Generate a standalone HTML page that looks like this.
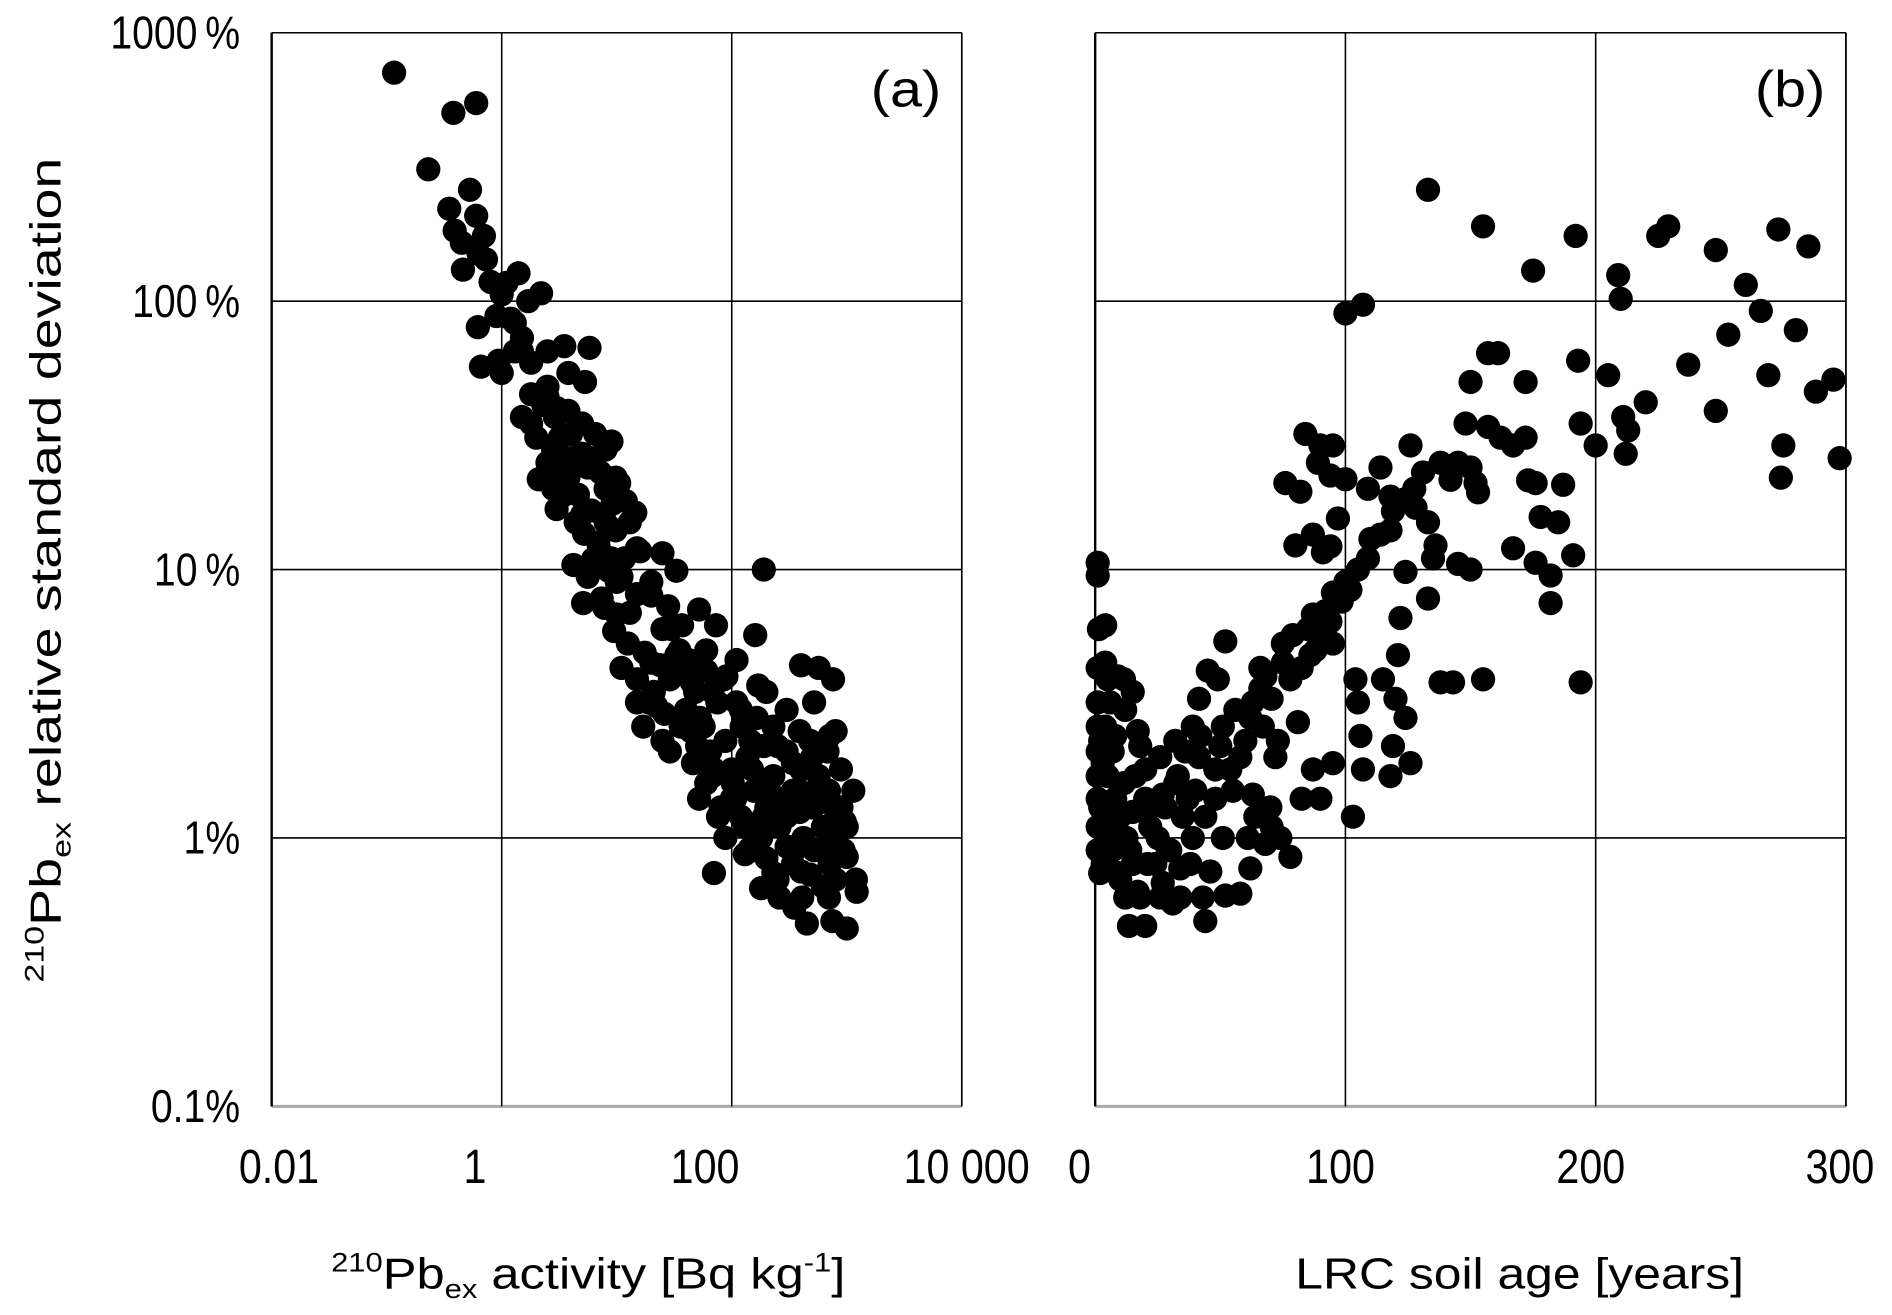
<!DOCTYPE html>
<html><head><meta charset="utf-8"><style>
html,body{margin:0;padding:0;background:#fff;}
svg{display:block;font-family:"Liberation Sans",sans-serif;}
</style></head><body>
<svg id="chart" width="1892" height="1315" viewBox="0 0 1560 1084" preserveAspectRatio="none" xmlns="http://www.w3.org/2000/svg">
<g id="grid"></g>
<g id="dotsA"></g>
<g id="dotsB"></g>
<g id="labels"></g>
<text x="776" y="88" font-size="42" text-anchor="end" textLength="58" lengthAdjust="spacingAndGlyphs">(a)</text>
<text x="1505" y="88" font-size="42" text-anchor="end" textLength="58" lengthAdjust="spacingAndGlyphs">(b)</text>
<text x="485" y="1062" font-size="36" text-anchor="middle" textLength="424" lengthAdjust="spacingAndGlyphs"><tspan font-size="22" dy="-14">210</tspan><tspan dy="14">Pb</tspan><tspan font-size="22" dy="8">ex</tspan><tspan dy="-8"> activity [Bq kg</tspan><tspan font-size="22" dy="-14">-1</tspan><tspan dy="14">]</tspan></text>
<text x="1253" y="1062" font-size="36" text-anchor="middle" textLength="370" lengthAdjust="spacingAndGlyphs">LRC soil age [years]</text>
<text transform="translate(50,470) rotate(-90)" font-size="36" text-anchor="middle" textLength="680" lengthAdjust="spacingAndGlyphs"><tspan font-size="22" dy="-14">210</tspan><tspan dy="14">Pb</tspan><tspan font-size="22" dy="8">ex</tspan><tspan dy="-8"> relative standard deviation</tspan></text>
</svg>
<script>
const aX=[0.116,0.38,0.6,0.23,0.35,0.53,0.39,0.6,0.45,0.7,0.46,0.73,0.63,0.8,1.1,1.4,0.9,0.62,1.0,1.2,1.7,2.2,1.3,0.66,0.94,1.0,1.5,1.3,1.8,2.5,3.5,5.8,2.5,3.8,5.3,1.8,2.3,2.9,3.8,5,6.5,8,9,3.2,2.5,4,5.6,7.2,9.8,2.8,3.5,4.6,6,8,10.5,9.2,5.2,6.9,9.8,13,14.5,6.2,8.5,11.6,16,5.6,5.1,7.4,10,15,20,25,33,9.5,12.5,17.5,24,33,11,15,21,29,42,60,37,52,73,19,26,36,53,75,17,25,44,65,88,122,165,46,68,100,137,190,52,76,107,156,230,340,88,130,190,270,390,570,143,200,300,420,620,810,230,340,480,710,940,70,260,450,750,1000,1220,1140,890,710,520,760,400,570,160,190,170,110,37,145,390,260,180,520,750,960,410,620,130,102,230,300,57,29,22,15,13,28,7.8,11,4.2,4.4,3.0,2.1,3,3.8,5,3,2,1.5,9,37,48,68,85,110,230,480,680,340,210,390,570,
40,50,60,80,120,150,200,250,300,350,400,500,600,700,800,900,1000,120,200,300,500,700,800,60,90,30,20,15,12,8,6,4,3,2.5,1.5,150,250,400,600,1000,1200,180,350,100,70,45,35,25,20,10,7,5,3.5,2.8,1.8];
const aY=[710,503,547,310,221,260,183,208,165,175,131,143,150,118,117,127,88,80,106,86,100,107,83,57,60,54,73,65,59,65,68,67,48,54,50,45,41,37,39,35,32,28,30,31,25,26,24,23,22,20,21,19,16.6,15,21,17.6,13.6,12.6,14,15,16.3,10.9,9.9,11,11.7,9.4,7.5,7.8,6.8,8.1,9,11.5,9.9,5.9,5.3,4.9,4.4,4.8,4.3,3.9,3.5,3.9,4.6,4.2,6.2,7.1,6.2,3.2,2.9,2.6,2.8,3.2,2.6,2.3,2.5,2.1,2.3,2.6,2.8,1.9,1.7,1.8,2,2.2,1.4,1.2,1.4,1.5,1.7,1.9,1,1.1,1.2,1.4,1.5,1.7,0.91,0.84,0.93,1,1.1,1.25,0.74,0.8,0.73,0.8,0.9,0.74,0.6,0.48,0.49,0.46,0.63,1.5,1.8,2.4,3.2,3.9,4.4,4.3,5.7,10,3.7,4.6,2.7,2.3,2.5,1.1,1,0.9,1,1.15,0.6,0.66,0.87,1.6,1.4,2.1,2.6,2.1,3.1,3.2,6.9,7.3,7.2,9.4,10.4,15,16.8,21.7,21.7,22,27,26,31,37,11,4.4,3.5,3.5,3.9,3.2,2.6,2.3,2.1,1.5,1.6,1.25,1.35,
3,2.2,1.6,1.3,1.2,0.9,1.3,0.7,1.2,0.9,0.75,1.3,0.9,0.6,0.7,1.3,1.1,3,3.5,3,2,1.5,2.5,5,4,6,8,12,18,20,26,32,40,44,65,1.8,2.2,1.8,1.5,0.85,0.7,0.65,0.55,1.4,1.8,3.8,5,6,4.5,9,12,16,19,28,35];
const bX=[1,1,1.5,4,1,1,1,1,1,1,1,1,2,4,5,9,11.5,6,4,7,5,8,5,7,9,12,13.5,20,17,15,12.5,15,11.5,17,20,22,25,21,27,31,29,27,33,32,39,41.5,37,39,34,43,44,41.5,45,49,52,51,54,48,51,52,58,61,63,60,63,66,68,70.5,67,73,70,68,62,78,74,70.5,81,78,75,79,82.5,86,90,94,87,95,98.5,102,105,109,95,91,87,94,97,100,94,89,84,90,95,76,82,80,82.5,90,95,87,103,104,105,106,107,115,118,119,120,124,126,121,122,124,114,119,124,127.5,131,126,109,114,118,133,136,133,138,142,138,143,145,150,148,145,150,153,152,155,150,157,161,155,133,107,100,157,162,167,172,172,175,167,173,176,178,185,176,182,182,187,191,194,193,194,192,200,205,209,210,211,212,213,220,225,229,237,248,248,253,260,266,269,273,275,274,280,285,288,295,297.5,
2,3,3,6,8,10,10,14,16,18,18,22,24,26,28,30,32,35,36,38,40,42,44,46,48,50,55,56,58,62,64,66,72,75,85,88,92,100,110,118,128,135,12,20,26,34,4,2,15];
const bY=[10.6,9.5,6,6.2,4.3,3.2,2.6,2.1,1.7,1.4,1.1,0.9,0.74,4.5,3.9,4,3.9,3.2,2.6,2.1,1.7,1.4,1.1,0.9,0.74,0.6,0.47,0.47,0.63,0.8,1,1.25,1.6,2.5,1.8,1.3,1,0.8,0.68,0.57,0.9,1.45,1.7,2.3,2.6,2,1.4,1,0.77,0.6,0.49,3.3,4.2,3.9,5.4,2.6,1.8,1.4,1,0.61,0.62,1,1.45,2.3,3.2,4.3,4,3.3,2.6,2.3,1.3,0.95,0.77,0.85,1,1.1,2.7,3.9,5.3,5.7,4.3,4.8,5.7,6.4,6.8,5.3,7.6,8.4,10,11,8.2,11.6,13.5,12.2,15.5,21.7,22.4,25,32,29,29,21,19.5,12.3,1.4,1.4,1.9,1.8,1.2,3.9,3.2,2.4,1.8,3.9,1.7,2.2,3.3,2.8,1.9,4.8,6.6,9.8,13.5,16.5,18.3,20,23,29,20,24,18.7,15,12.3,7.8,25,21.6,3.8,3.8,10.5,10,35,25,24,19.4,21,3.9,50,64,64,190,260,97,90,34,31,29,31,50,130,12,21.5,21,15.7,15,10.6,9.5,7.5,20.7,11.3,3.8,60,35,175,29,53,125,102,37,27,33,42,175,190,58,155,39,75,115,92,53,185,29,22,78,160,46,51,26,
1.3,1.9,0.8,1.0,2.4,1.2,0.7,0.9,1.7,2.2,0.6,1.1,0.8,2.0,1.3,0.9,1.6,1.2,2.1,0.8,1.5,2.4,1.2,0.75,1.8,2.2,1.5,3.0,2.0,2.8,1.2,3.6,2.0,4.5,6,5,7,9,13,14,17,11,3,1.4,0.6,0.6,0.9,2.3,3.5];
const yTicks=[1000,100,10,1,0.1];
const yTickLabels=["1000\u2009%","100\u2009%","10\u2009%","1%","0.1%"];
const aXTicks=[0.01,1,100,10000];
const aXTickLabels=["0.01","1","100","10 000"];
const bXTicks=[0,100,200,300];
const bXTickLabels=["0","100","200","300"];

const NS="http://www.w3.org/2000/svg";
const TOP=27,BOT=912;
const A={l:224,r:793},B={l:903,r:1522};
function yS(v){return TOP+(3-Math.log10(v))/4*(BOT-TOP);}
function xA(v){return A.l+(Math.log10(v)+2)/6*(A.r-A.l);}
function xB(v){return B.l+v/300*(B.r-B.l);}
function mk(tag,attrs,parent){const e=document.createElementNS(NS,tag);for(const k in attrs)e.setAttribute(k,attrs[k]);parent.appendChild(e);return e;}
const grid=document.getElementById('grid'),labels=document.getElementById('labels');
yTicks.forEach((t,i)=>{
  [A,B].forEach((P,j)=>{
    const ln=mk('line',{x1:P.l,x2:P.r,y1:yS(t),y2:yS(t),stroke:(i===4?'#aaa':'#000'),'stroke-width':(i===4?2.5:1.3)},grid);
    
    
  });
  const tx=mk('text',{transform:'translate(198,'+(yS(t)+13)+') scale(0.85,1)','font-size':38,'text-anchor':'end'},labels);
  tx.textContent=yTickLabels[i];
  
  
});
aXTicks.forEach((t,i)=>{
  const x=xA(t);
  const ln=mk('line',{x1:x,x2:x,y1:TOP,y2:BOT,stroke:'#000','stroke-width':1.3},grid);
  
  
  const cx=(i===0?230:(i===3?797:x-22));
  const tx=mk('text',{transform:'translate('+cx+',975) scale(0.85,1)','font-size':40,'text-anchor':'middle'},labels);
  tx.textContent=aXTickLabels[i];
  
  
});
bXTicks.forEach((t,i)=>{
  const x=xB(t);
  const ln=mk('line',{x1:x,x2:x,y1:TOP,y2:BOT,stroke:'#000','stroke-width':(i===0?2:1.3)},grid);
  
  
  const cx=(i===0?890:(i===3?1517:x-4));
  const tx=mk('text',{transform:'translate('+cx+',975) scale(0.85,1)','font-size':40,'text-anchor':'middle'},labels);
  tx.textContent=bXTickLabels[i];
  
  
});
[A,B].forEach(P=>{
  const r=mk('line',{x1:P.r,x2:P.r,y1:TOP,y2:BOT,stroke:'#000','stroke-width':1.3},grid);
  
  
});
const la=mk('line',{x1:A.l,x2:A.l,y1:TOP,y2:BOT,stroke:'#000','stroke-width':2},grid);


const dA=document.getElementById('dotsA'),dB=document.getElementById('dotsB');
aX.forEach((v,i)=>{
  const c=mk('circle',{cx:xA(v),cy:yS(aY[i]),r:10,fill:'#000'},dA);
  
  
});
bX.forEach((v,i)=>{
  const c=mk('circle',{cx:xB(v),cy:yS(bY[i]),r:10,fill:'#000'},dB);
  
  
});
</script>
</body></html>
